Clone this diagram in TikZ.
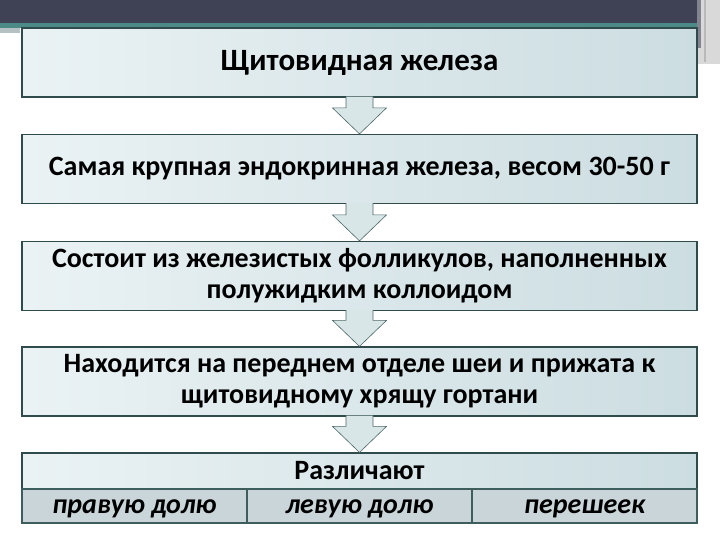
\documentclass[tikz,border=0pt]{standalone}
\usepackage{fontspec}
\setmainfont{Carlito}
\usepackage{xcolor}
\usepackage{tikz}
\usetikzlibrary{calc}

\definecolor{bandgray}{HTML}{3F4254}
\definecolor{bandteal}{HTML}{4C8A88}
\definecolor{boxline}{HTML}{2F4B4B}
\definecolor{boxleft}{HTML}{EAF2F4}
\definecolor{boxright}{HTML}{CCDDE1}
\definecolor{arrowfill}{HTML}{D8E6E8}
\definecolor{cellfill}{HTML}{CAD5D9}
\definecolor{cellline}{HTML}{3D5E5D}

\begin{document}
\begin{tikzpicture}[
  x=1pt, y=-1pt,
  font=\fontsize{28}{31}\selectfont\bfseries,
  block/.style={draw=boxline, line width=1.2pt, left color=boxleft, right color=boxright, align=center, minimum width=675pt, minimum height=69pt, inner sep=0pt},
  cell/.style={draw=cellline, line width=2.4pt, fill=cellfill, minimum width=225pt, minimum height=34pt, inner sep=0pt, text height=14pt, text depth=0pt, font=\fontsize{28}{31}\selectfont\bfseries\itshape},
  downarrow/.style={draw=boxline!85, line width=0.6pt, fill=arrowfill}
]
\useasboundingbox (0,0) rectangle (720,540);

% header band
\fill[bandgray] (0,0) rectangle (697,23);
\fill[bandteal] (0,23) rectangle (697,28);
\fill[boxright!70!gray] (0,28) rectangle (20,33);
\fill[gray!30] (697,0) rectangle (720,64);
\fill[bandgray!65] (697,0) rectangle (701,48);
\fill[gray!55] (704,0) rectangle (706,62);

\node[block, font=\fontsize{31}{36}\selectfont\bfseries] (title) at (359.5,62.5) {Щитовидная железа};
\node[block] (size) at (359.5,169) {Самая крупная эндокринная железа, весом 30-50 г};
\node[block] (follicles) at (359.5,276) {Состоит из железистых фолликулов, наполненных\\полужидким коллоидом};
\node[block] (place) at (359.5,381.5) {Находится на переднем отделе шеи и прижата к\\щитовидному хрящу гортани};
\node[block, minimum height=36pt] (kinds) at (359.5,471) {Различают};
\node[cell] (rightlobe) at (134.5,506) {правую долю};
\node[cell] (leftlobe) at (359.5,506) {левую долю};
\node[cell] (isthmus) at (584.5,506) {перешеек};

\foreach \a/\b in {title/size, size/follicles, follicles/place, place/kinds}
  \draw[downarrow] ([xshift=-13.5pt,yshift=1pt]\a.south) -- ([xshift=-13.5pt,yshift=26pt]\b.north)
    -- ([xshift=-27pt,yshift=26pt]\b.north) -- (\b.north) -- ([xshift=27pt,yshift=26pt]\b.north)
    -- ([xshift=13.5pt,yshift=26pt]\b.north) -- ([xshift=13.5pt,yshift=1pt]\a.south);

\end{tikzpicture}
\end{document}
